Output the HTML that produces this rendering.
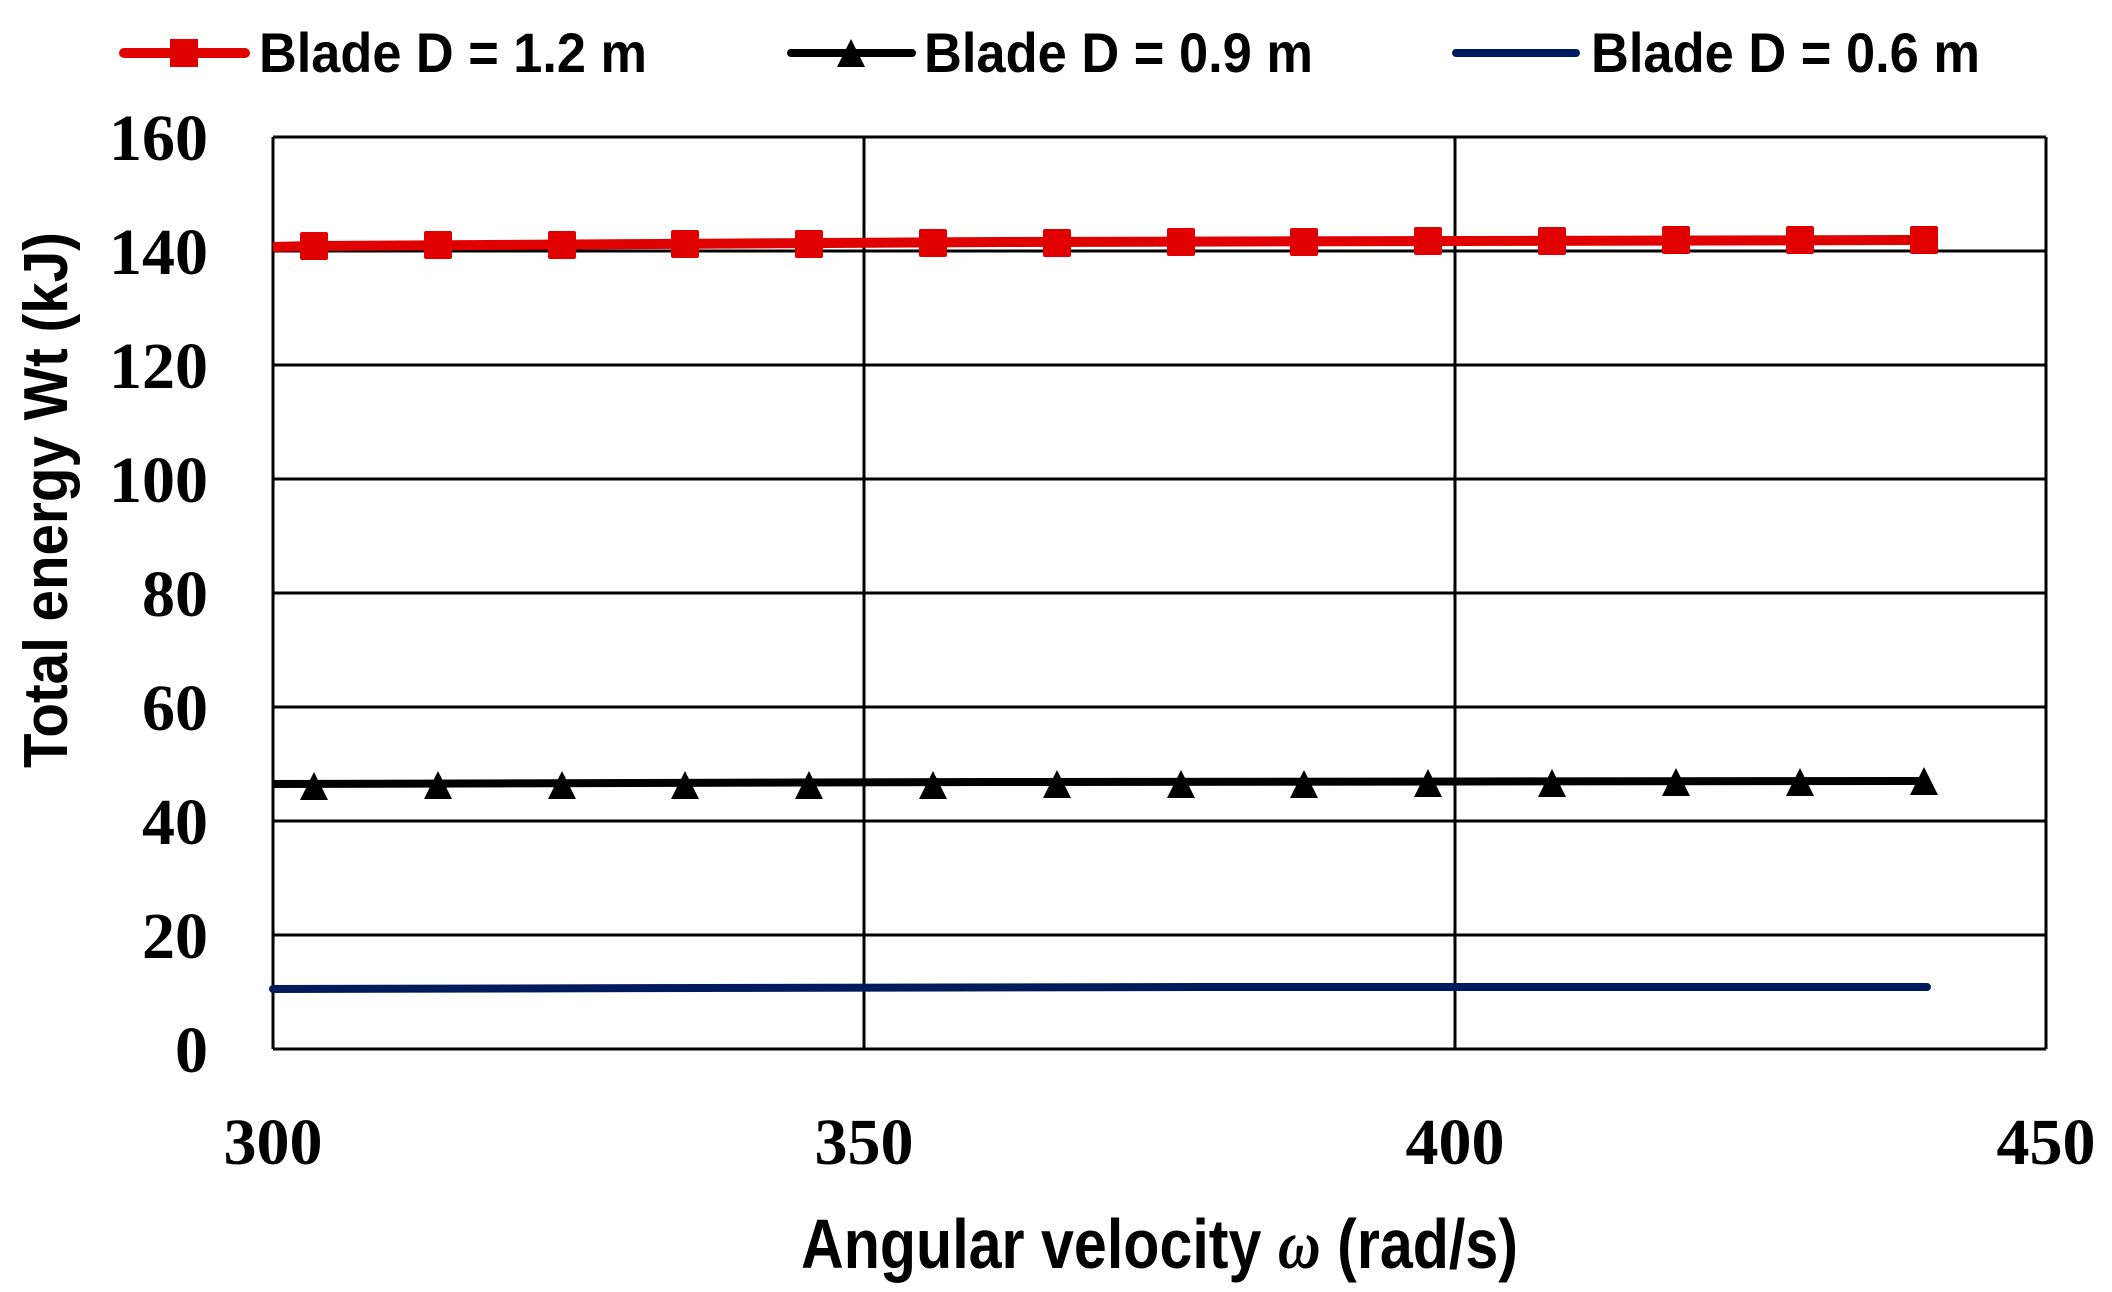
<!DOCTYPE html>
<html><head><meta charset="utf-8"><style>html,body{margin:0;padding:0;background:#fff}svg{display:block}</style></head>
<body>
<svg width="2112" height="1292" viewBox="0 0 2112 1292" xmlns="http://www.w3.org/2000/svg">
<rect width="2112" height="1292" fill="#fff"/>
<g stroke="#000" stroke-width="3">
<line x1="273" y1="137" x2="2046" y2="137"/>
<line x1="273" y1="251" x2="2046" y2="251"/>
<line x1="273" y1="365" x2="2046" y2="365"/>
<line x1="273" y1="479" x2="2046" y2="479"/>
<line x1="273" y1="593" x2="2046" y2="593"/>
<line x1="273" y1="707" x2="2046" y2="707"/>
<line x1="273" y1="821" x2="2046" y2="821"/>
<line x1="273" y1="935" x2="2046" y2="935"/>
<line x1="273" y1="1049" x2="2046" y2="1049"/>
<line x1="273" y1="137" x2="273" y2="1049"/>
<line x1="864" y1="137" x2="864" y2="1049"/>
<line x1="1455" y1="137" x2="1455" y2="1049"/>
<line x1="2046" y1="137" x2="2046" y2="1049"/>
</g>
<g font-family="Liberation Serif, serif" font-weight="bold" font-size="66" fill="#000" text-anchor="end">
<text x="208" y="160">160</text><text x="208" y="274">140</text><text x="208" y="388">120</text><text x="208" y="502">100</text><text x="208" y="616">80</text><text x="208" y="730">60</text><text x="208" y="844">40</text><text x="208" y="958">20</text><text x="208" y="1072">0</text>
</g>
<g font-family="Liberation Serif, serif" font-weight="bold" font-size="66" fill="#000" text-anchor="middle">
<text x="273" y="1164">300</text><text x="864" y="1164">350</text><text x="1455" y="1164">400</text><text x="2046" y="1164">450</text>
</g>
<polyline fill="none" stroke="#001a5e" stroke-width="8" stroke-linecap="round" points="273,989 700,988 1200,987 1927,987"/>
<polyline fill="none" stroke="#000" stroke-width="8" points="273,784 1000,782 1924,781"/>
<polyline fill="none" stroke="#e00000" stroke-width="10" points="273,247 314,246 1000,242 1924,240"/>
<g fill="#000">
<polygon points="314,772 300,800 328,800"/><polygon points="438,771 424,799 452,799"/><polygon points="562,771 548,799 576,799"/><polygon points="685,771 671,799 699,799"/><polygon points="809,771 795,799 823,799"/><polygon points="933,771 919,799 947,799"/><polygon points="1057,770 1043,798 1071,798"/><polygon points="1181,770 1167,798 1195,798"/><polygon points="1304,770 1290,798 1318,798"/><polygon points="1428,769 1414,797 1442,797"/><polygon points="1552,769 1538,797 1566,797"/><polygon points="1676,768 1662,796 1690,796"/><polygon points="1800,768 1786,796 1814,796"/><polygon points="1924,767 1910,795 1938,795"/>
</g>
<g fill="#e00000">
<rect x="300" y="232" width="28" height="28" rx="2"/><rect x="424" y="231" width="28" height="28" rx="2"/><rect x="548" y="231" width="28" height="28" rx="2"/><rect x="671" y="230" width="28" height="28" rx="2"/><rect x="795" y="230" width="28" height="28" rx="2"/><rect x="919" y="229" width="28" height="28" rx="2"/><rect x="1043" y="229" width="28" height="28" rx="2"/><rect x="1167" y="228" width="28" height="28" rx="2"/><rect x="1290" y="228" width="28" height="28" rx="2"/><rect x="1414" y="227" width="28" height="28" rx="2"/><rect x="1538" y="227" width="28" height="28" rx="2"/><rect x="1662" y="226" width="28" height="28" rx="2"/><rect x="1786" y="226" width="28" height="28" rx="2"/><rect x="1910" y="226" width="28" height="28" rx="2"/>
</g>
<line x1="124" y1="53" x2="245" y2="53" stroke="#e00000" stroke-width="10" stroke-linecap="round"/>
<rect x="170" y="39" width="28" height="28" fill="#e00000"/>
<line x1="791" y1="53" x2="912" y2="53" stroke="#000" stroke-width="8" stroke-linecap="round"/>
<polygon points="851,39 837,67 865,67" fill="#000"/>
<line x1="1456" y1="53" x2="1576" y2="53" stroke="#001a5e" stroke-width="8" stroke-linecap="round"/>
<g font-family="Liberation Sans, sans-serif" font-weight="bold" font-size="56" fill="#000">
<text x="259" y="72" textLength="388" lengthAdjust="spacingAndGlyphs">Blade D = 1.2 m</text>
<text x="924" y="72" textLength="389" lengthAdjust="spacingAndGlyphs">Blade D = 0.9 m</text>
<text x="1591" y="72" textLength="389" lengthAdjust="spacingAndGlyphs">Blade D = 0.6 m</text>
<text x="801" y="1268" font-size="70" textLength="717" lengthAdjust="spacingAndGlyphs">Angular velocity <tspan font-style="italic" font-family="Liberation Serif, serif">ω</tspan> (rad/s)</text>
<text transform="translate(67,768) rotate(-90)" font-size="62" textLength="536" lengthAdjust="spacingAndGlyphs">Total energy Wt (kJ)</text>
</g>
</svg>
</body></html>
